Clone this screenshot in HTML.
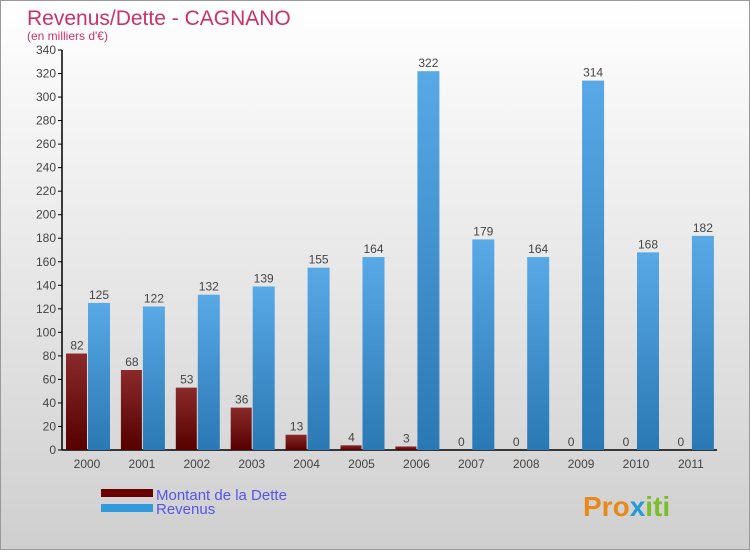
<!DOCTYPE html>
<html><head><meta charset="utf-8"><style>
body{margin:0;width:750px;height:550px;overflow:hidden;font-family:"Liberation Sans",sans-serif}
#wrap{position:relative;width:748px;height:548px;border:1px solid #999;background:linear-gradient(#ffffff,#cfcfcf)}
</style></head><body>
<div id="wrap">
<svg id="chart" width="748" height="548">
<defs>
<linearGradient id="gd" x1="0" y1="0" x2="0" y2="1"><stop offset="0" stop-color="#8a2a2a"/><stop offset="1" stop-color="#560000"/></linearGradient>
<linearGradient id="gr" x1="0" y1="0" x2="0" y2="1"><stop offset="0" stop-color="#58a9e6"/><stop offset="1" stop-color="#2a78b4"/></linearGradient>
</defs>
<text x="26" y="24" font-size="21" fill="#c8336a">Revenus/Dette - CAGNANO</text>
<text x="26" y="39" font-size="12" fill="#c8336a">(en milliers d'€)</text>
<g id="axes"></g><g id="bars"></g>
<rect x="100" y="488" width="52" height="8" fill="#6b0000"/>
<rect x="100" y="503" width="52" height="8" fill="#3399dd"/>
<text x="155" y="499" font-size="15" fill="#5555ee">Montant de la Dette</text>
<text x="155" y="513" font-size="15" fill="#5555ee">Revenus</text>
<text x="582" y="515" font-size="28" font-weight="bold" fill="#e88a1a">Pro<tspan fill="#2a9ad6">x</tspan><tspan fill="#7cbd2a">iti</tspan></text>
</svg>
</div>
<script>
const years=["2000","2001","2002","2003","2004","2005","2006","2007","2008","2009","2010","2011"];
const dette=[82,68,53,36,13,4,3,0,0,0,0,0];
const revenus=[125,122,132,139,155,164,322,179,164,314,168,182];
const yTicks=[0,20,40,60,80,100,120,140,160,180,200,220,240,260,280,300,320,340];
const NS="http://www.w3.org/2000/svg";
const y=v=>449-v*400/340;
const x=i=>86+i*54.9;
function mk(t,a,p){const e=document.createElementNS(NS,t);for(const k in a)e.setAttribute(k,a[k]);p.appendChild(e);return e;}
const ax=document.getElementById('axes'),bg=document.getElementById('bars');
const yl=mk('line',{x1:61,y1:y(340),x2:61,y2:y(0),stroke:'#000','stroke-width':1.5},ax);


const xl=mk('line',{x1:61,y1:y(0),x2:716,y2:y(0),stroke:'#000','stroke-width':1.5},ax);


yTicks.forEach(v=>{
  mk('line',{x1:57,y1:y(v),x2:61,y2:y(v),stroke:'#000'},ax);
  const t=mk('text',{x:55,y:y(v)+4,'font-size':12,fill:'#444','text-anchor':'end'},ax);t.textContent=v;
  
  
});
years.forEach((yr,i)=>{
  const t=mk('text',{x:x(i),y:467,'font-size':12,fill:'#444','text-anchor':'middle'},ax);t.textContent=yr;
  
  
  const d=mk('rect',{x:x(i)-21,y:y(dette[i]),width:21,height:y(0)-y(dette[i]),fill:'url(#gd)'},bg);
  
  
  const r=mk('rect',{x:x(i)+1,y:y(revenus[i]),width:22,height:y(0)-y(revenus[i]),fill:'url(#gr)'},bg);
  
  
  const l1=mk('text',{x:x(i)-10,y:y(dette[i])-4,'font-size':12,fill:'#444','text-anchor':'middle'},bg);l1.textContent=dette[i];
  
  
  const l2=mk('text',{x:x(i)+12,y:y(revenus[i])-4,'font-size':12,fill:'#444','text-anchor':'middle'},bg);l2.textContent=revenus[i];
  
  
});
</script>
</body></html>
